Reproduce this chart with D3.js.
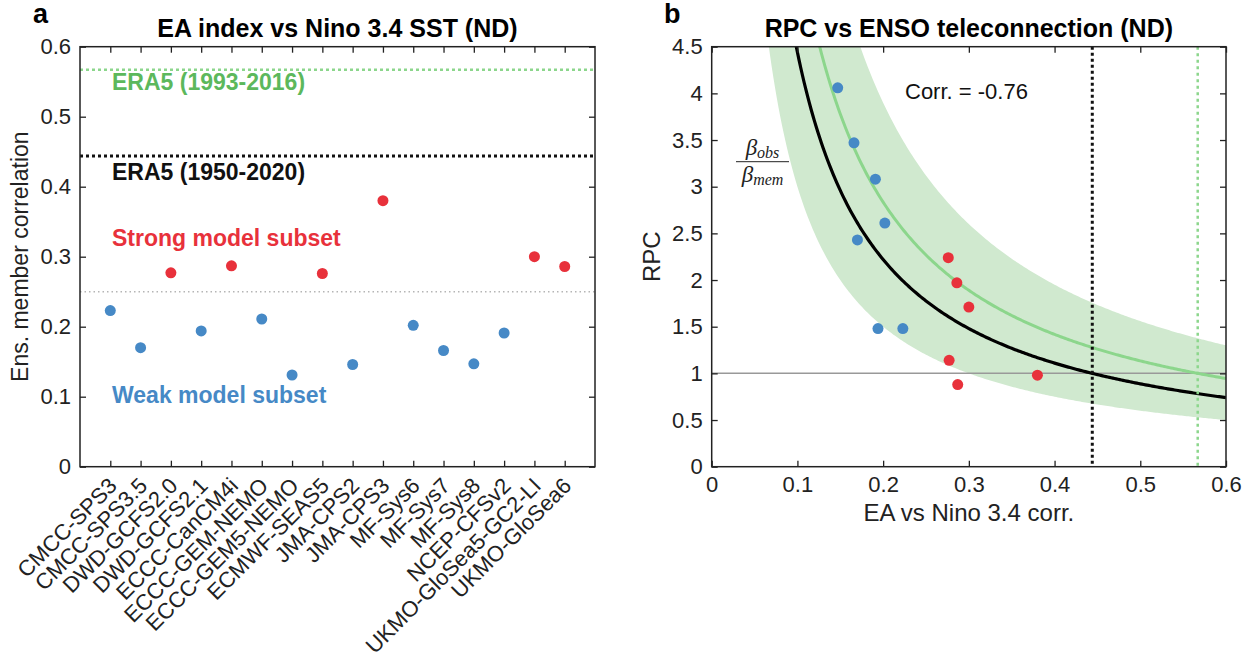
<!DOCTYPE html>
<html>
<head>
<meta charset="utf-8">
<script src="https://cdn.jsdelivr.net/npm/d3@7.9.0/dist/d3.min.js"></script>
<style>
  body { margin: 0; background: #fff; }
  svg { font-family: 'Liberation Sans', Arial, sans-serif; }
  .tick text { font-size: 22px; fill: #222; }
  .tick line { stroke: #222; stroke-width: 1.3; }
</style>
</head>
<body>
<svg id="chart" width="1256" height="665"></svg>
<script>
// model names on the x axis of panel a
const models = ['CMCC-SPS3', 'CMCC-SPS3.5', 'DWD-GCFS2.0', 'DWD-GCFS2.1', 'ECCC-CanCM4i',
  'ECCC-GEM-NEMO', 'ECCC-GEM5-NEMO', 'ECMWF-SEAS5', 'JMA-CPS2', 'JMA-CPS3', 'MF-Sys6',
  'MF-Sys7', 'MF-Sys8', 'NCEP-CFSv2', 'UKMO-GloSea5-GC2-LI', 'UKMO-GloSea6'];
// ensemble member correlation (EA index vs Nino 3.4)
const memberCorr = [0.223, 0.170, 0.277, 0.194, 0.287, 0.211, 0.131, 0.276, 0.146, 0.380,
  0.202, 0.166, 0.147, 0.191, 0.300, 0.286];
// RPC for each model (null = off the top of panel b)
const rpc = [1.48, 2.43, 1.14, 1.48, 0.88, null, null, 2.24, null, 0.98,
  2.61, 3.47, 4.06, 3.08, 1.71, 1.97];

const subsetThreshold = 0.25;
const era5Long = 0.444;   // 1950-2020
const era5Short = 0.567;  // 1993-2016
const obsRange = [0.30, 0.78]; // spread of observed correlation (shading)
const corrValue = -0.76;

const yTicksA = [0, 0.1, 0.2, 0.3, 0.4, 0.5, 0.6];
const xTicksB = [0, 0.1, 0.2, 0.3, 0.4, 0.5, 0.6];
const yTicksB = [0, 0.5, 1, 1.5, 2, 2.5, 3, 3.5, 4, 4.5];

const blue = '#4689c6', red = '#e8313b', green = '#8cd68c', greenText = '#5cb85c', band = '#d0e9cf';
const fmt = d => String(+d.toFixed(2));

const svg = d3.select('#chart');
const yTop = 46.7, yBot = 466.7;

////////////////////////////// panel a //////////////////////////////
const ax0 = 80, ax1 = 595;
let xA = d3.scaleLinear().domain([0, models.length + 1]).range([ax0, ax1]);
let yA = d3.scaleLinear().domain([0, 0.6]).range([yBot, yTop]);

const gA = svg.append('g');

// reference lines
gA.append('line').attr('x1', ax0).attr('x2', ax1).attr('y1', yA(subsetThreshold)).attr('y2', yA(subsetThreshold))
  .attr('stroke', '#b5b5b5').attr('stroke-width', 1.5).attr('stroke-dasharray', '1.5 3');
gA.append('line').attr('x1', ax0).attr('x2', ax1).attr('y1', yA(era5Long)).attr('y2', yA(era5Long))
  .attr('stroke', '#111').attr('stroke-width', 3).attr('stroke-dasharray', '3 3');
gA.append('line').attr('x1', ax0).attr('x2', ax1).attr('y1', yA(era5Short)).attr('y2', yA(era5Short))
  .attr('stroke', green).attr('stroke-width', 2.5).attr('stroke-dasharray', '3 3');

// axes (ticks point inward)
gA.append('g').attr('transform', `translate(0,${yBot})`)
  .call(d3.axisBottom(xA).tickValues(d3.range(1, models.length + 1)).tickFormat(i => models[i - 1]).tickSize(-6).tickPadding(0))
  .call(g => g.select('.domain').remove())
  .selectAll('text')
  .attr('x', 0).attr('y', 0).attr('dy', '0.35em')
  .attr('text-anchor', 'end')
  .attr('transform', 'translate(2,15) rotate(-45)');
gA.append('g').attr('transform', `translate(0,${yTop})`)
  .call(d3.axisTop(xA).tickValues(d3.range(1, models.length + 1)).tickFormat('').tickSize(-6))
  .call(g => g.select('.domain').remove());
gA.append('g').attr('transform', `translate(${ax0},0)`)
  .call(d3.axisLeft(yA).tickValues(yTicksA).tickFormat(fmt).tickSize(-6).tickPadding(9))
  .call(g => g.select('.domain').remove());
gA.append('g').attr('transform', `translate(${ax1},0)`)
  .call(d3.axisRight(yA).tickValues(yTicksA).tickFormat('').tickSize(-6))
  .call(g => g.select('.domain').remove());
gA.append('rect').attr('x', ax0).attr('y', yTop).attr('width', ax1 - ax0).attr('height', yBot - yTop)
  .attr('fill', 'none').attr('stroke', '#222').attr('stroke-width', 1.5);

// points
gA.selectAll('circle').data(memberCorr).join('circle')
  .attr('cx', (d, i) => xA(i + 1)).attr('cy', d => yA(d)).attr('r', 5.5)
  .attr('fill', d => d > subsetThreshold ? red : blue);

// annotations
const note = (x, y, t, c) => gA.append('text').attr('x', x).attr('y', y).text(t)
  .attr('fill', c).attr('font-size', 23).attr('font-weight', 'bold');
note(112, 90, 'ERA5 (1993-2016)', greenText);
note(112, 180, 'ERA5 (1950-2020)', '#111');
note(112, 246, 'Strong model subset', red);
note(112, 403, 'Weak model subset', blue);

gA.append('text').attr('x', (ax0 + ax1) / 2).attr('y', 37).attr('text-anchor', 'middle')
  .attr('font-size', 25).attr('font-weight', 'bold').text('EA index vs Nino 3.4 SST (ND)');
gA.append('text').attr('x', 33).attr('y', 23).attr('font-size', 27).attr('font-weight', 'bold').text('a');
gA.append('text').attr('transform', `translate(28,${(yTop + yBot) / 2}) rotate(-90)`)
  .attr('text-anchor', 'middle').attr('font-size', 23).attr('fill', '#222').text('Ens. member correlation');

////////////////////////////// panel b //////////////////////////////
const bx0 = 711.7, bx1 = 1226;
let xB = d3.scaleLinear().domain([0, 0.6]).range([bx0, bx1]);
let yB = d3.scaleLinear().domain([0, 4.5]).range([yBot, yTop]);

const gB = svg.append('g');
svg.append('clipPath').attr('id', 'clipB').append('rect')
  .attr('x', bx0).attr('y', yTop).attr('width', bx1 - bx0).attr('height', yBot - yTop);
const plot = gB.append('g').attr('clip-path', 'url(#clipB)');

const xs = d3.range(0.04, 0.6005, 0.002);
plot.append('path').datum(xs)
  .attr('d', d3.area().x(d => xB(d)).y0(d => yB(Math.min(obsRange[0] / d, 20))).y1(d => yB(Math.min(obsRange[1] / d, 20))))
  .attr('fill', band);

plot.append('line').attr('x1', bx0).attr('x2', bx1).attr('y1', yB(1)).attr('y2', yB(1))
  .attr('stroke', '#999').attr('stroke-width', 1.5);

const curve = c => d3.line().x(d => xB(d)).y(d => yB(Math.min(c / d, 20)));
plot.append('path').datum(xs).attr('d', curve(era5Short)).attr('fill', 'none')
  .attr('stroke', green).attr('stroke-width', 3);
plot.append('path').datum(xs).attr('d', curve(era5Long)).attr('fill', 'none')
  .attr('stroke', '#000').attr('stroke-width', 3.2);

plot.append('line').attr('x1', xB(era5Long)).attr('x2', xB(era5Long)).attr('y1', yTop).attr('y2', yBot)
  .attr('stroke', '#111').attr('stroke-width', 3).attr('stroke-dasharray', '3 3');
plot.append('line').attr('x1', xB(era5Short)).attr('x2', xB(era5Short)).attr('y1', yTop).attr('y2', yBot)
  .attr('stroke', green).attr('stroke-width', 2.5).attr('stroke-dasharray', '3 3.5');

const pts = memberCorr.map((c, i) => ({ c, r: rpc[i] })).filter(d => d.r != null);
plot.selectAll('circle').data(pts).join('circle')
  .attr('cx', d => xB(d.c)).attr('cy', d => yB(d.r)).attr('r', 5.5)
  .attr('fill', d => d.c > subsetThreshold ? red : blue);

gB.append('g').attr('transform', `translate(0,${yBot})`)
  .call(d3.axisBottom(xB).tickValues(xTicksB).tickFormat(fmt).tickSize(-6).tickPadding(10))
  .call(g => g.select('.domain').remove());
gB.append('g').attr('transform', `translate(0,${yTop})`)
  .call(d3.axisTop(xB).tickValues(xTicksB).tickFormat('').tickSize(-6))
  .call(g => g.select('.domain').remove());
gB.append('g').attr('transform', `translate(${bx0},0)`)
  .call(d3.axisLeft(yB).tickValues(yTicksB).tickFormat(fmt).tickSize(-6).tickPadding(9))
  .call(g => g.select('.domain').remove());
gB.append('g').attr('transform', `translate(${bx1},0)`)
  .call(d3.axisRight(yB).tickValues(yTicksB).tickFormat('').tickSize(-6))
  .call(g => g.select('.domain').remove());
gB.append('rect').attr('x', bx0).attr('y', yTop).attr('width', bx1 - bx0).attr('height', yBot - yTop)
  .attr('fill', 'none').attr('stroke', '#222').attr('stroke-width', 1.5);

gB.append('text').attr('x', 905).attr('y', 99).attr('font-size', 22).attr('fill', '#111')
  .text(`Corr. = ${corrValue.toFixed(2)}`);

// beta_obs / beta_mem
const frac = gB.append('g').attr('font-family', "'Liberation Serif', 'DejaVu Serif', serif").attr('font-style', 'italic').attr('fill', '#222');
const num = frac.append('text').attr('x', 762.5).attr('y', 155).attr('text-anchor', 'middle');
num.append('tspan').attr('font-size', 23).text('β');
num.append('tspan').attr('font-size', 16).attr('dy', 3).text('obs');
frac.append('line').attr('x1', 736).attr('x2', 789).attr('y1', 161.7).attr('y2', 161.7).attr('stroke', '#222').attr('stroke-width', 1);
const den = frac.append('text').attr('x', 762.5).attr('y', 182).attr('text-anchor', 'middle');
den.append('tspan').attr('font-size', 23).text('β');
den.append('tspan').attr('font-size', 16).attr('dy', 3).text('mem');

gB.append('text').attr('x', (bx0 + bx1) / 2).attr('y', 37).attr('text-anchor', 'middle')
  .attr('font-size', 25).attr('font-weight', 'bold').text('RPC vs ENSO teleconnection (ND)');
gB.append('text').attr('x', 664).attr('y', 23).attr('font-size', 27).attr('font-weight', 'bold').text('b');
gB.append('text').attr('transform', `translate(660,${(yTop + yBot) / 2}) rotate(-90)`)
  .attr('text-anchor', 'middle').attr('font-size', 24).attr('fill', '#222').text('RPC');
gB.append('text').attr('x', (bx0 + bx1) / 2).attr('y', 521).attr('text-anchor', 'middle')
  .attr('font-size', 24).attr('fill', '#222').text('EA vs Nino 3.4 corr.');
</script>
</body>
</html>
